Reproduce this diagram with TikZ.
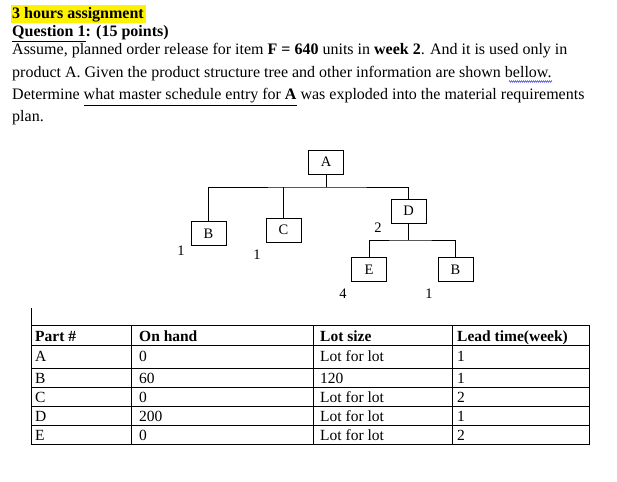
\documentclass[tikz,border=0pt]{standalone}
\usepackage{fontspec}
\setmainfont{Liberation Serif}
\usetikzlibrary{decorations.pathmorphing}
\begin{document}
\begin{tikzpicture}[x=1pt,y=-1pt,
  txt/.style={anchor=base west,inner sep=0pt,font=\fontsize{16}{18}\selectfont},
  bx/.style={draw,line width=0.8pt,minimum width=35pt,minimum height=24pt,inner sep=0pt,font=\fontsize{14.5}{16}\selectfont},
  lbl/.style={inner sep=0pt,font=\fontsize{14.5}{16}\selectfont},
  cell/.style={anchor=base west,inner sep=0pt,font=\fontsize{15.5}{17}\selectfont},
  ln/.style={line width=0.8pt}]
\useasboundingbox (0,0) rectangle (617,481);
\fill[yellow] (11,5) rectangle (146,23);
\node[txt] (l1) at (12,19) {\textbf{3 hours assignment}};
\node[txt] (l2) at (12,37) {\textbf{\underline{Question 1}: (15 points)}};
\node[txt] (l3) at (12,55) {Assume, planned order release for item \textbf{F = 640} units in \textbf{week 2}. And it is used only in};
\node[txt] (l4) at (12,78) {product A. Given the product structure tree and other information are shown bellow.};
\node[txt] (l5) at (12,100) {Determine \underline{what master schedule entry for \textbf{A}} was exploded into the material requirements};
\node[txt] (l6) at (12,122) {plan.};
\draw[blue!70,line width=0.5pt,decorate,decoration={zigzag,segment length=2pt,amplitude=0.8pt}] (509,81.5) -- (552,81.5);
% tree
\node[bx] (A) at (326,162) {A};
\node[bx] (B1) at (208.5,233.5) {B};
\node[bx] (C) at (283.5,230) {C};
\node[bx] (D) at (408.5,211) {D};
\node[bx] (E) at (369,269.5) {E};
\node[bx] (B2) at (455.5,269.5) {B};
\coordinate (j1) at (326,187);
\coordinate (j2) at (408.5,240);
\draw[ln] (A.south) -- (j1);
\draw[ln] (B1.north) |- (j1) -| (D.north);
\draw[ln] (C.north) -- (C.north |- j1);
\draw[ln] (D.south) -- (j2);
\draw[ln] (E.north) |- (j2) -| (B2.north);
\node[lbl] (n1) at (181,251) {1};
\node[lbl] (n2) at (257,255) {1};
\node[lbl] (n3) at (378,228) {2};
\node[lbl] (n4) at (343,294) {4};
\node[lbl] (n5) at (429,294) {1};
% table
\draw[ln] (31,308) -- (31,325);
\draw[ln] (31,325) rectangle (589,444);
\foreach \y in {345,368,387,406,425} \draw[ln] (31,\y) -- (589,\y);
\foreach \x in {131,313,452} \draw[ln] (\x,325) -- (\x,444);
\foreach \r/\a/\b/\c/\d [count=\i] in {
  341/\textbf{Part \#}/\textbf{On hand}/\textbf{Lot size}/\textbf{Lead time(week)},
  361/A/0/Lot for lot/1,
  383/B/60/120/1,
  402/C/0/Lot for lot/2,
  421/D/200/Lot for lot/1,
  440/E/0/Lot for lot/2}{
  \node[cell] (ca\i) at (35,\r) {\a};
  \node[cell] (cb\i) at (139,\r) {\b};
  \node[cell] (cc\i) at (320,\r) {\c};
  \node[cell] (cd\i) at (457,\r) {\d};
}
\end{tikzpicture}
\end{document}
